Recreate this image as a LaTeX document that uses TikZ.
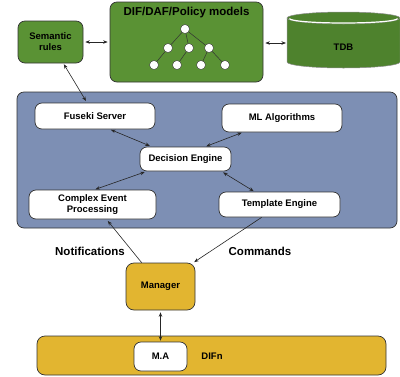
\documentclass[tikz,border=0pt]{standalone}
\usepackage{fontspec}
\setmainfont{Liberation Sans}
\usetikzlibrary{arrows.meta}
\definecolor{leafgreen}{HTML}{5A9234}
\definecolor{dbgreen}{HTML}{4E822D}
\definecolor{slateblue}{HTML}{7D8FB4}
\definecolor{mustard}{HTML}{E2B530}
\definecolor{edgegray}{HTML}{333333}
\tikzset{
    green-box/.style = {draw=edgegray, fill=leafgreen, line width=0.7pt, rectangle, rounded corners=7pt, font=\fontsize{9.5}{11}\selectfont\bfseries, align=center},
    white-box/.style = {draw=edgegray, fill=white, line width=0.7pt, rectangle, rounded corners=7pt, font=\fontsize{9.5}{11}\selectfont\bfseries, align=center, inner sep=0pt},
    gold-box/.style = {draw=edgegray, fill=mustard, line width=0.7pt, rectangle, rounded corners=8pt, font=\fontsize{9.5}{11}\selectfont\bfseries, inner sep=0pt},
    tree-dot/.style = {draw=edgegray, fill=white, circle, line width=0.4pt, minimum size=9pt, inner sep=0pt},
    big-label/.style = {font=\fontsize{11.5}{13}\selectfont\bfseries},
    link/.style = {line width=0.6pt, draw=black!85, >={Stealth[length=4.5pt,width=3.5pt]}},
}

\begin{document}
\begin{tikzpicture}[x=1pt, y=-1pt]
\useasboundingbox (0,0) rectangle (400,376);

% top row
\node [green-box, minimum width=65pt, minimum height=42pt] (sem) at (50.5,42) {Semantic\\rules};
\node [green-box, minimum width=153pt, minimum height=80pt] (dif) at (186.5,42) {};
\node [big-label] (diftitle) at (186.5,13) {DIF/DAF/Policy models};

% model tree
\node [tree-dot] (t0) at (185,29) {};
\node [tree-dot] (t1) at (168,48) {};
\node [tree-dot] (t2) at (189,48) {};
\node [tree-dot] (t3) at (209,48) {};
\node [tree-dot] (l1) at (154,65) {};
\node [tree-dot] (l2) at (177,65) {};
\node [tree-dot] (l3) at (201,65) {};
\node [tree-dot] (l4) at (225,65) {};
\foreach \a/\b in {t0/t1, t0/t2, t0/t3, t1/l1, t2/l2, t3/l3, t3/l4}
    \draw [edgegray, line width=0.5pt] (\a) -- (\b);

% TDB store
\fill [dbgreen] (287,18) -- (287,62) arc[start angle=180, end angle=0, x radius=56.5, y radius=6] -- (400,18) -- cycle;
\draw [black!45, line width=0.5pt] (287,18) -- (287,62) arc[start angle=180, end angle=0, x radius=56.5, y radius=6] -- (400,18);
\filldraw [fill=dbgreen, draw=black!45, line width=0.5pt] (343.5,18) ellipse [x radius=56.5, y radius=6];
\draw [white, line width=1.2pt] (289.5,18.5) arc[start angle=180, end angle=0, x radius=54, y radius=4.5];
\node [font=\fontsize{9.5}{11}\selectfont\bfseries] (tdb) at (343.5,47) {TDB};
\coordinate (tdb-w) at (287,43);

\draw [link, <->, shorten <=2pt, shorten >=2pt] (sem.east) -- (sem.east -| dif.west);
\draw [link, <->, shorten <=2pt, shorten >=1pt] (dif.east |- tdb-w) -- (tdb-w);

% core platform
\node [draw=edgegray, fill=slateblue, line width=0.7pt, rounded corners=7pt, minimum width=380pt, minimum height=136pt] (core) at (207,160) {};
\node [white-box, minimum width=120pt, minimum height=26pt] (fuseki) at (95,116) {Fuseki Server};
\node [white-box, minimum width=120pt, minimum height=28pt] (ml) at (282,118) {ML Algorithms};
\node [white-box, minimum width=91pt, minimum height=24pt] (dec) at (185.5,159) {Decision Engine};
\node [white-box, minimum width=127pt, minimum height=29pt] (cep) at (92.5,204.5) {Complex Event\\Processing};
\node [white-box, minimum width=121pt, minimum height=25pt] (tmpl) at (279.5,204.5) {Template Engine};
\coordinate (sem-in) at (86,101);

\draw [link, <->, shorten <=1pt] (sem) -- (sem-in);
\draw [link, <->, shorten <=1pt, shorten >=2pt] ([xshift=15pt]fuseki.south) -- ([xshift=12pt]dec.north west);
\draw [link, <->, shorten <=1pt, shorten >=1pt] ([xshift=21pt]ml.south west) -- ([xshift=-26pt]dec.north east);
\draw [link, <->, shorten <=2pt, shorten >=1pt] ([xshift=7pt]dec.south west) -- ([xshift=2pt]cep.north);
\draw [link, <->, shorten <=2pt, shorten >=1pt] ([xshift=-10pt]dec.south east) -- ([xshift=-25pt]tmpl.north);

% manager and DIF
\node [gold-box, minimum width=69pt, minimum height=47pt] (mgr) at (160.5,286.5) {Manager};
\node [gold-box, minimum width=349pt, minimum height=39pt] (difn) at (211.5,355.5) {};
\node [white-box, minimum width=53pt, minimum height=29pt] (ma) at (160.5,356.5) {M.A};
\node [font=\fontsize{9.5}{11}\selectfont\bfseries] (difn-label) at (212,356) {DIFn};

\node [big-label] (notif) at (90,251) {Notifications};
\node [big-label] (cmd) at (260,251) {Commands};

\draw [link, ->, shorten >=2pt] ([xshift=16pt]mgr.north west) -- ([xshift=14pt]cep.south);
\draw [link, ->, shorten >=1pt] ([xshift=43pt]tmpl.south west) -- ([xshift=-2pt]mgr.north east);
\draw [link, <->, shorten <=2pt, shorten >=1pt] (mgr.south) -- (ma.north);
\end{tikzpicture}
\end{document}
